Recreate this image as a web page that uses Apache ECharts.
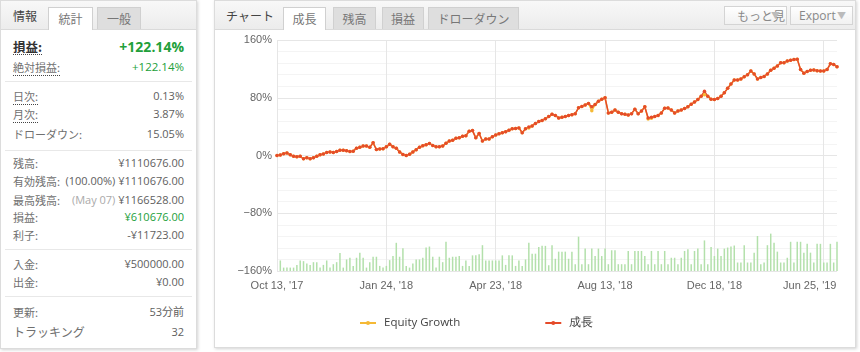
<!DOCTYPE html>
<html>
<head>
<meta charset="utf-8">
<script src="https://cdn.jsdelivr.net/npm/echarts@6/dist/echarts.min.js"></script>
<style>
body{margin:0;width:860px;height:352px;background:#fff;font-family:"Open Sans","Noto Sans CJK JP",sans-serif;overflow:hidden;position:relative}
.panel{position:absolute;top:0;background:#fff;border:1px solid #dcdcdc;box-shadow:1px 1px 3px rgba(0,0,0,.18);box-sizing:border-box}
.hd{position:absolute;left:0;right:0;top:0;height:28px;background:linear-gradient(#f8f8f8,#ececec);border-bottom:1px solid #dadada}
.tab{position:absolute;top:6px;height:22px;line-height:21px;text-align:center;font-size:12px;color:#777;background:#dedede;border:1px solid #d0d0d0;border-bottom:none;box-sizing:border-box;font-family:"Noto Sans CJK JP"}
.tab.on{background:#fff;height:23px}
.ttl{position:absolute;top:0;line-height:29px;font-size:12px;color:#444;font-family:"Noto Sans CJK JP"}
.row{position:absolute;left:12px;right:12px;height:18px;line-height:18px;font-size:11px;color:#707070;white-space:nowrap}
.row .l{position:absolute;left:0;font-family:"Noto Sans CJK JP"}
.row .v{position:absolute;right:0;font-size:11px;color:#606060}
.dot{border-bottom:1px dotted #444;line-height:15px;display:inline-block}
.sep{position:absolute;left:4px;right:4px;height:0;border-top:1px solid #e8e8e8}
.g{color:#22a03a !important}
.m{color:#aaa}
.btn{position:absolute;top:5px;height:19px;line-height:18px;font-size:12px;color:#888;background:linear-gradient(#fff,#f1f1f1);border:1px solid #d4d4d4;box-sizing:border-box;padding-left:8px;white-space:nowrap}
.btn i{font-style:normal;color:#bbb;font-size:9px;position:absolute;right:6px;top:0}
#chart{position:absolute;left:215px;top:29px;width:640px;height:318px}
</style>
</head>
<body>
<div class="panel" style="left:0;width:197px;height:349px">
  <div class="hd"></div>
  <div class="ttl" style="left:12px">情報</div>
  <div class="tab on" style="left:47px;width:45px">統計</div>
  <div class="tab" style="left:96px;width:44px">一般</div>

  <div class="row" style="top:37px;color:#333"><span class="l"><span class="dot" style="font-weight:bold;font-size:12.5px">損益:</span></span><span class="v g" style="font-weight:bold;font-size:14px">+122.14%</span></div>
  <div class="row" style="top:57px"><span class="l"><span class="dot">絶対損益:</span></span><span class="v g" style="font-size:11.5px">+122.14%</span></div>
  <div class="sep" style="top:80px"></div>
  <div class="row" style="top:86px"><span class="l"><span class="dot">日次:</span></span><span class="v">0.13%</span></div>
  <div class="row" style="top:104px"><span class="l"><span class="dot">月次:</span></span><span class="v">3.87%</span></div>
  <div class="row" style="top:124px"><span class="l">ドローダウン:</span><span class="v">15.05%</span></div>
  <div class="sep" style="top:149px"></div>
  <div class="row" style="top:153px"><span class="l">残高:</span><span class="v">¥1110676.00</span></div>
  <div class="row" style="top:171px"><span class="l">有効残高:</span><span class="v">(100.00%) ¥1110676.00</span></div>
  <div class="row" style="top:190px"><span class="l">最高残高:</span><span class="v"><span class="m">(May 07)</span> ¥1166528.00</span></div>
  <div class="row" style="top:207px"><span class="l">損益:</span><span class="v g">¥610676.00</span></div>
  <div class="row" style="top:225px"><span class="l">利子:</span><span class="v">-¥11723.00</span></div>
  <div class="sep" style="top:248px"></div>
  <div class="row" style="top:254px"><span class="l">入金:</span><span class="v">¥500000.00</span></div>
  <div class="row" style="top:272px"><span class="l">出金:</span><span class="v">¥0.00</span></div>
  <div class="sep" style="top:295px"></div>
  <div class="row" style="top:302px"><span class="l">更新:</span><span class="v">53分前</span></div>
  <div class="row" style="top:322px"><span class="l" style="font-size:12px">トラッキング</span><span class="v">32</span></div>
</div>

<div class="panel" style="left:214px;width:642px;height:348px">
  <div class="hd"></div>
  <div class="ttl" style="left:11px">チャート</div>
  <div class="tab on" style="left:68px;width:43px">成長</div>
  <div class="tab" style="left:118px;width:43px">残高</div>
  <div class="tab" style="left:167px;width:42px">損益</div>
  <div class="tab" style="left:213px;width:91px">ドローダウン</div>
  <div class="btn" style="left:509px;width:63px;font-family:'Noto Sans CJK JP';padding-left:12px">もっと見<i>▼</i></div>
  <div class="btn" style="left:575px;width:63px">Export<i>▼</i></div>
</div>

<div id="chart"></div>

<script>
// x axis labels (every 33rd trading day)
var tickLabels = ['Oct 13, \'17', 'Jan 24, \'18', 'Apr 23, \'18', 'Aug 13, \'18', 'Dec 18, \'18', 'Jun 25, \'19'];
var tickStep = 33;

// 成長 (%)
var growth = [0,0.8,2.5,3.5,1,-1,-1.8,-1.2,-4.5,-3.2,
	-4.4,-3,-1,1,2,4,4.8,4,5.5,7.2,
	7.4,6.5,5.5,6,10,11.5,13,13,11.5,17.5,
	8.3,9,9.2,12,15.5,12,10,5,1.5,0,
	1.8,5,8,11.5,13.5,15,16.5,14,12,12,
	13,17,20,21,24,24.5,26.5,27.5,33.5,34.5,
	24.5,30.5,20,23,23,26,28.5,30,31.5,33,
	35,37,37.5,38.2,31.5,37,39.5,41,44.5,47,
	48.5,51,54,57,55.5,52,53,54,55.5,56.5,
	58,66,68,70,72,67.5,70.5,75,78,80,
	59,60,63,60,58,57,56,58,64,58,
	61.5,67.5,52,53,54,55.5,59,65.5,65.7,63,
	59,61.5,63,65,67.5,71,74,77.5,82,89,
	82,78,77.5,79,82,87,93,99,104.5,104.5,
	106,109,112,117,113,106,108,109.5,113,118,
	121,124,128.5,128.5,131,132,133,133.5,119,114,
	116.5,118,118.5,117.4,117,117,119,127,126,123];

// Equity Growth (%)
var equity = [0,0.8,2.5,3.5,1,-1,-1.8,-1.2,-4.5,-3.2,
	-4.4,-3,-1,1,2,4,4.8,4,5.5,7.2,
	7.4,6.5,5.5,6,10,11.5,13,13,11.5,17.5,
	8.3,9,9.2,12,15.5,12,10,5,1.5,0,
	1.8,5,8,11.5,13.5,15,16.5,14,12,12,
	13,17,20,21,24,24.5,26.5,27.5,33.5,34.5,
	24.5,30.5,20,23,23,26,28.5,30,31.5,33,
	35,37,37.5,38.2,31.5,37,38,41,44.5,47,
	48.5,51,54,57,55.5,52,53,54,55.5,56.5,
	58,66,68,70,72,62,70.5,75,78,80,
	59,60,63,60,58,57,56,58,64,58,
	61.5,67.5,50.5,51.5,54,55.5,59,65.5,65.7,63,
	59,61.5,63,65,67.5,71,74,77.5,82,84,
	82,78,77.5,79,82,87,93,99,104.5,104.5,
	106,109,112,117,113,106,108,109.5,113,118,
	121,124,128.5,128.5,131,132,133,133.5,119,114,
	116.5,118,118.5,117.4,117,117,119,127,126,123];

// 取引量 (bars at the bottom)
var volume = [0,
	3.1,1,1,1,1,1.8,3.1,2.9,2.2,1.8,
	2.6,2.6,1,1.8,3.1,1,2,2.6,5.3,1,
	3.4,3.9,1.5,3.9,5.4,3.9,1,2.6,4.2,4.2,
	1.5,1,1.5,3.2,4.4,8.3,4.2,6.7,1.5,1,
	2.2,3.4,3.4,3.9,6.9,7.2,4.2,1,4.2,2.6,8.6,
	3.9,4.2,4.2,4.4,1.5,3.1,1.5,4.6,4.6,4.9,
	7.6,3.1,3.1,3.1,3.1,3.1,4.6,1.8,4.6,4.6,
	1.5,3.1,1.5,3.4,8.3,5.1,5.1,7.1,
	7.4,7.4,1.7,7.6,3.6,5.7,5.7,5.7,3.6,5.7,
	2,10.1,2,6.6,2,6.6,4.4,6.6,4.4,6.6,2,
	6.1,6.1,2,2,2,5.9,2,5.9,5.9,5.9,
	4.4,2,5.9,2,5.9,2,5.9,2,3.9,3.9,
	2,3.9,5.9,6.4,2,5.9,6.6,2,9,2,7.1,
	4.4,6.6,4.4,6.6,6.9,7.2,7.5,2.5,2.5,7.6,
	2.5,2.5,5.4,10.3,2,2.5,7.6,11,8.3,5.7,2.5,
	2.5,3.9,8.6,2.5,8.6,8.6,5.4,8,5.4,2.5,
	8,8,2.5,2.5,8,2.5,8.6];

var categories = [];
for (var i = 0; i < growth.length; i++) {
	if (i % tickStep == 0 && i / tickStep == tickLabels.length - 1) {
		// 最後のラベルは右に収める
		categories.push({value: String(i), textStyle: {padding: [0, 28, 0, 0]}});
	} else {
		categories.push(String(i));
	}
}

var chart = echarts.init(document.getElementById('chart'));
var option = {
	animation: false,
	textStyle: {fontFamily: 'Liberation Sans'},
	grid: {left: 62, right: 18, top: 11, bottom: 76, outerBoundsMode: 'none'},
	legend: {
		left: 139,
		top: 283,
		itemGap: 84,
		itemWidth: 16,
		itemHeight: 5,
		textStyle: {color: '#444', fontSize: 11.5, fontFamily: 'Open Sans', padding: [0, 0, 0, 3]},
		data: ['Equity Growth', '成長']
	},
	xAxis: {
		type: 'category',
		boundaryGap: false,
		data: categories,
		axisLine: {show: false},
		axisTick: {show: false},
		axisLabel: {
			interval: tickStep - 1,
			margin: 9,
			color: '#666',
			fontSize: 11,
			formatter: function(v, idx) {
				return idx % tickStep == 0 ? tickLabels[idx / tickStep] : '';
			}
		},
		splitLine: {show: true, interval: tickStep - 1, lineStyle: {color: '#e6e6e6'}}
	},
	yAxis: [{
		type: 'value',
		min: -160,
		max: 160,
		interval: 80,
		axisLine: {show: false},
		axisTick: {show: false},
		axisLabel: {
			margin: 5,
			color: '#666',
			fontSize: 11,
			formatter: function(v) {
				return (v < 0 ? '\u2212' + (-v) : v) + '%';
			}
		},
		splitLine: {lineStyle: {color: '#e6e6e6'}},
		minorTick: {show: false, splitNumber: 5},
		minorSplitLine: {show: true, lineStyle: {color: '#f4f4f4'}}
	}, {
		type: 'value',
		min: 0,
		max: 68,
		show: false,
		splitLine: {show: false}
	}],
	series: [{
		type: 'bar',
		yAxisIndex: 1,
		barWidth: 1.5,
		itemStyle: {color: '#b3e0ab'},
		data: volume
	}, {
		name: 'Equity Growth',
		type: 'line',
		symbol: 'circle',
		symbolSize: 3.5,
		showAllSymbol: true,
		color: '#f5b935',
		lineStyle: {width: 1.5},
		data: equity
	}, {
		name: '成長',
		type: 'line',
		symbol: 'circle',
		symbolSize: 3.5,
		showAllSymbol: true,
		color: '#e54b2a',
		lineStyle: {width: 1.5},
		data: growth
	}]
};
chart.setOption(option);
</script>
</body>
</html>
